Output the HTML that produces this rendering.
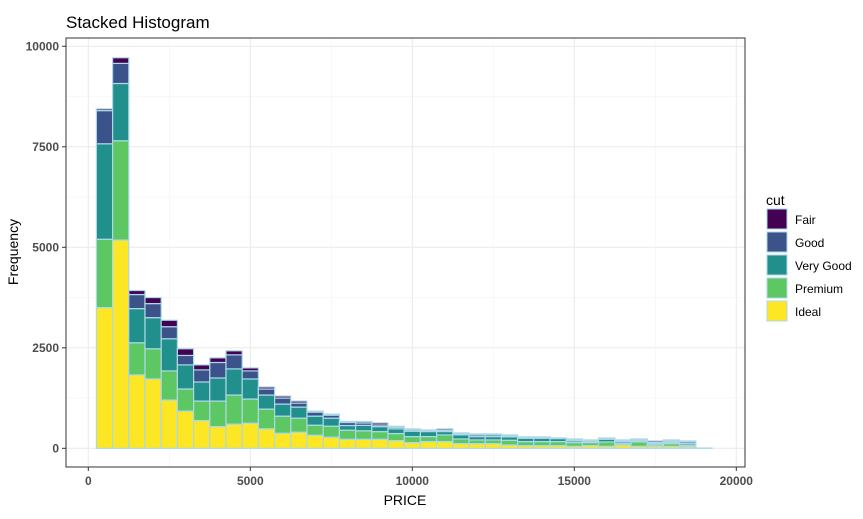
<!DOCTYPE html>
<html><head><meta charset="utf-8">
<style>
body{margin:0;background:#fff;font-family:"Liberation Sans",sans-serif;}
svg text{font-family:"Liberation Sans",sans-serif;}
</style></head>
<body>
<svg id="chart" width="863" height="514" viewBox="0 0 863 514" xmlns="http://www.w3.org/2000/svg">
<rect width="863" height="514" fill="#fff"/>
<text x="66" y="28" font-size="17" fill="#000">Stacked Histogram</text>
<g id="grid"></g>
<g id="bars"></g>
<rect x="66" y="38" width="679" height="429" fill="none" stroke="#333" stroke-width="1"/>
<g id="axes"></g>
<text x="405" y="505" font-size="14" text-anchor="middle" fill="#000">PRICE</text>
<text transform="translate(18,252) rotate(-90)" font-size="14" text-anchor="middle" fill="#000">Frequency</text>
<g id="legend"></g>
</svg>
<script>
const centers = [500,1000,1500,2000,2500,3000,3500,4000,4500,5000,5500,6000,6500,7000,7500,8000,8500,9000,9500,10000,10500,11000,11500,12000,12500,13000,13500,14000,14500,15000,15500,16000,16500,17000,17500,18000,18500,19000];
const cuts = ["Fair","Good","Very Good","Premium","Ideal"];
const colors = ["#440154","#3B528B","#21908C","#5DC863","#FDE725"];
const ideal =    [3500,5180,1825,1725,1200,925,690,540,600,625,485,375,400,325,275,225,225,225,192,142,167,167,117,117,117,83,67,67,67,50,67,50,83,50,50,50,42,0];
const premium =  [1700,2470,800,750,725,550,485,635,725,600,490,425,350,250,275,225,210,190,175,150,125,166,116,91,91,117,100,100,100,92,75,108,34,108,33,67,33,0];
const veryGood = [2375,1425,850,775,800,600,475,575,650,500,350,300,275,225,200,117,135,125,116,133,125,84,100,84,84,83,83,83,75,41,33,67,41,25,34,33,42,0];
const good =     [825,500,350,350,300,235,300,385,350,200,150,150,100,100,75,75,60,40,35,33,25,30,25,40,40,30,20,20,10,30,20,20,30,30,30,30,40,5];
const fair =     [42,140,100,150,160,165,125,115,100,75,50,50,50,25,25,25,35,50,30,25,16,36,25,26,26,20,13,13,6,20,13,13,20,20,36,28,26,3];
const xTicks = [0,5000,10000,15000,20000];
const yTicks = [0,2500,5000,7500,10000];
const binWidth = 500;

const NS="http://www.w3.org/2000/svg";
const x = v => 88.3 + v*0.0324;
const y = v => 448.3 - v*0.0402;
function mk(tag, attrs, parent){const e=document.createElementNS(NS,tag);for(const k in attrs)e.setAttribute(k,attrs[k]);parent.appendChild(e);return e;}
const grid=document.getElementById('grid'), bars=document.getElementById('bars'), axes=document.getElementById('axes'), legend=document.getElementById('legend');
mk('rect',{x:66,y:38,width:679,height:429,fill:'#fff'},grid);
for(let v=-1250; v<=11250; v+=1250){const yy=y(v); if(yy<38||yy>467)continue;
  const major=v%2500===0;
  const l=mk('line',{x1:66,x2:745,y1:yy,y2:yy,stroke:major?'#EBEBEB':'#F3F3F3','stroke-width':major?1.1:0.6},grid);
  
  }
for(let v=-2500; v<=22500; v+=2500){const xx=x(v); if(xx<66||xx>745)continue;
  const major=v%5000===0;
  const l=mk('line',{x1:xx,x2:xx,y1:38,y2:467,stroke:major?'#EBEBEB':'#F3F3F3','stroke-width':major?1.1:0.6},grid);
  
  }
const series=[ideal,premium,veryGood,good,fair];
const sColors=[colors[4],colors[3],colors[2],colors[1],colors[0]];
const sNames=['ideal','premium','very-good','good','fair'];
centers.forEach((c,i)=>{
  let cum=0;
  const x0=x(c-binWidth/2), x1=x(c+binWidth/2);
  series.forEach((s,j)=>{
    const v=s[i]; const yb=y(cum), yt=y(cum+v); cum+=v;
    const r=mk('rect',{x:x0,y:yt,width:x1-x0,height:Math.max(0,yb-yt),fill:sColors[j],stroke:'#ADD8E6','stroke-width':1.2},bars);
    
    
  });
});
xTicks.forEach(v=>{const xx=x(v);
  mk('line',{x1:xx,x2:xx,y1:467,y2:471,stroke:'#333'},axes);
  const t=mk('text',{x:xx,y:485,'font-size':12,'font-weight':'bold','text-anchor':'middle',fill:'#4D4D4D'},axes);t.textContent=v;
  
  });
yTicks.forEach(v=>{const yy=y(v);
  mk('line',{x1:62,x2:66,y1:yy,y2:yy,stroke:'#333'},axes);
  const t=mk('text',{x:59,y:yy+4,'font-size':12,'font-weight':'bold','text-anchor':'end',fill:'#4D4D4D'},axes);t.textContent=v;
  
  });
const lt=mk('text',{x:766,y:205,'font-size':14,fill:'#000'},legend);lt.textContent='cut';


cuts.forEach((n,i)=>{const yy=209+i*23;
  const r=mk('rect',{x:767,y:yy,width:20,height:20,fill:colors[i],stroke:'#ADD8E6','stroke-width':1},legend);
  
  
  const t=mk('text',{x:795,y:yy+15,'font-size':12,fill:'#000'},legend);t.textContent=n;
  
  });
</script>
</body></html>
